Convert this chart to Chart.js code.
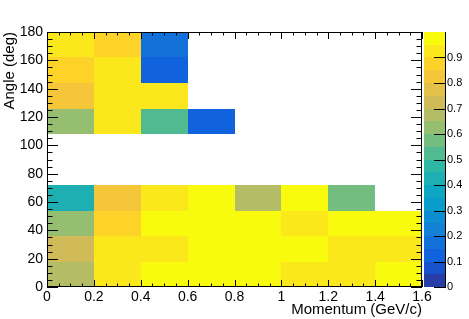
<!DOCTYPE html>
<html>
<head>
<meta charset="utf-8">
<script src="https://cdn.jsdelivr.net/npm/chart.js@4.4.1/dist/chart.umd.min.js"></script>
<style>
html, body { margin: 0; padding: 0; background: #fff; }
</style>
</head>
<body>
<canvas id="effMap" width="469" height="319"></canvas>
<script>
// bin edges
var momentumEdges = [0, 0.2, 0.4, 0.6, 0.8, 1.0, 1.2, 1.4, 1.6];
var angleEdges = [0, 18, 36, 54, 72, 90, 108, 126, 144, 162, 180];

// efficiency per angle bin, one value per momentum bin (null = empty bin)
var eff_0_18    = [0.68, 0.93, 0.97, 0.98, 0.97, 0.92, 0.93, 0.96];
var eff_18_36   = [0.72, 0.93, 0.92, 0.97, 0.98, 0.97, 0.92, 0.92];
var eff_36_54   = [0.63, 0.87, 0.97, 0.98, 0.97, 0.92, 0.96, 0.97];
var eff_54_72   = [0.42, 0.82, 0.91, 0.98, 0.67, 0.96, 0.57, null];
var eff_72_90   = [null, null, null, null, null, null, null, null];
var eff_90_108  = [null, null, null, null, null, null, null, null];
var eff_108_126 = [0.62, 0.93, 0.52, 0.12, null, null, null, null];
var eff_126_144 = [0.81, 0.93, 0.93, null, null, null, null, null];
var eff_144_162 = [0.86, 0.92, 0.13, null, null, null, null, null];
var eff_162_180 = [0.92, 0.88, 0.17, null, null, null, null, null];
var angleRows = [eff_0_18, eff_18_36, eff_36_54, eff_54_72, eff_72_90,
                 eff_90_108, eff_108_126, eff_126_144, eff_144_162, eff_162_180];

// tick labels
var momentumTicks = [0, 0.2, 0.4, 0.6, 0.8, 1, 1.2, 1.4, 1.6];
var angleTicks = [0, 20, 40, 60, 80, 100, 120, 140, 160, 180];
var colorTicks = [0, 0.1, 0.2, 0.3, 0.4, 0.5, 0.6, 0.7, 0.8, 0.9];

// ROOT kBird palette, 20 contours
var birdStops = [0, 0.125, 0.25, 0.375, 0.5, 0.625, 0.75, 0.875, 1];
var birdR = [0.2082, 0.0592, 0.0780, 0.0232, 0.1802, 0.5301, 0.8186, 0.9956, 0.9764];
var birdG = [0.1664, 0.3599, 0.5041, 0.6419, 0.7178, 0.7492, 0.7328, 0.7862, 0.9832];
var birdB = [0.5293, 0.8684, 0.8385, 0.7914, 0.6425, 0.4662, 0.3499, 0.1968, 0.0539];
var nContours = 20;

function birdColor(f) {
    var i = 1;
    while (i < birdStops.length - 1 && f > birdStops[i]) i++;
    var t = (f - birdStops[i - 1]) / (birdStops[i] - birdStops[i - 1]);
    var c = function(a) { return Math.round(255 * (a[i - 1] + t * (a[i] - a[i - 1]))); };
    return 'rgb(' + c(birdR) + ',' + c(birdG) + ',' + c(birdB) + ')';
}
function bandColor(band) {
    var idx = Math.floor((band + 0.99) * 255 / nContours);
    return birdColor(Math.min(1, idx / 254));
}
function zColor(v) {
    return bandColor(Math.min(nContours - 1, Math.floor(v * nContours + 1e-9)));
}

// cells
var cells = [];
angleRows.forEach(function(row, j) {
    row.forEach(function(v, i) {
        if (v === null) return;
        cells.push({
            x: (momentumEdges[i] + momentumEdges[i + 1]) / 2,
            y: (angleEdges[j] + angleEdges[j + 1]) / 2,
            x0: momentumEdges[i], x1: momentumEdges[i + 1],
            y0: angleEdges[j], y1: angleEdges[j + 1],
            v: v
        });
    });
});

var heatmapPlugin = {
    id: 'heatmap',
    beforeDatasetsDraw: function(chart) {
        var ctx = chart.ctx, xs = chart.scales.x, ys = chart.scales.y;
        ctx.save();
        chart.data.datasets[0].data.forEach(function(c) {
            var px0 = Math.round(xs.getPixelForValue(c.x0));
            var px1 = Math.round(xs.getPixelForValue(c.x1));
            var py0 = Math.round(ys.getPixelForValue(c.y0));
            var py1 = Math.round(ys.getPixelForValue(c.y1));
            ctx.fillStyle = zColor(c.v);
            ctx.fillRect(px0, py1, px1 - px0, py0 - py1);
        });
        ctx.restore();
    },
    afterDraw: function(chart) {
        var ctx = chart.ctx, a = chart.chartArea;
        var xs = chart.scales.x, ys = chart.scales.y, zs = chart.scales.z;
        ctx.save();
        ctx.strokeStyle = '#000';
        ctx.lineWidth = 1;
        ctx.strokeRect(a.left + 0.5, a.top + 0.5, a.right - a.left - 1, a.bottom - a.top - 1);

        ctx.beginPath();
        // x ticks, bottom and top
        for (var i = 0; i <= 32; i++) {
            var px = Math.round(xs.getPixelForValue(i * 0.05)) + 0.5;
            var len = (i % 4 === 0) ? 7 : 3.5;
            ctx.moveTo(px, a.bottom); ctx.lineTo(px, a.bottom - len);
            ctx.moveTo(px, a.top); ctx.lineTo(px, a.top + len);
        }
        // y ticks, left and right
        for (var k = 0; k <= 36; k++) {
            var py = Math.round(ys.getPixelForValue(k * 5)) + 0.5;
            var l2 = (k % 4 === 0) ? 11 : 5.5;
            ctx.moveTo(a.left, py); ctx.lineTo(a.left + l2, py);
            ctx.moveTo(a.right, py); ctx.lineTo(a.right - l2, py);
        }
        ctx.stroke();

        // colour bar
        var bx0 = a.right + 2, bx1 = a.right + 23;
        for (var b = 0; b < nContours; b++) {
            var yb = Math.round(zs.getPixelForValue(b / nContours));
            var yt = Math.round(zs.getPixelForValue((b + 1) / nContours));
            ctx.fillStyle = bandColor(b);
            ctx.fillRect(bx0, yt, bx1 - bx0, yb - yt);
        }
        ctx.beginPath();
        ctx.moveTo(bx1 + 0.5, a.top); ctx.lineTo(bx1 + 0.5, a.bottom);
        colorTicks.forEach(function(v) {
            var py = Math.round(zs.getPixelForValue(v)) + 0.5;
            ctx.moveTo(bx1 + 1, py); ctx.lineTo(bx1 - 11, py);
        });
        ctx.stroke();
        ctx.restore();
    }
};

var fontFam = '"Liberation Sans", Arial, sans-serif';

new Chart(document.getElementById('effMap').getContext('2d'), {
    type: 'scatter',
    data: {
        datasets: [{
            data: cells,
            pointRadius: 0,
            pointHoverRadius: 0
        }]
    },
    options: {
        responsive: false,
        animation: false,
        devicePixelRatio: 1,
        layout: { padding: { top: 32, left: 0, right: 0, bottom: 0 } },
        plugins: {
            legend: { display: false },
            tooltip: { enabled: false }
        },
        scales: {
            x: {
                type: 'linear',
                position: 'bottom',
                min: 0,
                max: 1.6,
                grid: { display: false, drawTicks: false },
                border: { display: false },
                afterBuildTicks: function(s) { s.ticks = momentumTicks.map(function(v) { return { value: v }; }); },
                afterFit: function(s) { s.height = 32; },
                ticks: {
                    padding: 2,
                    color: '#000',
                    font: { family: fontFam, size: 14 },
                    maxRotation: 0,
                    callback: function(v) { return String(v); }
                },
                title: {
                    display: true,
                    text: 'Momentum (GeV/c)',
                    align: 'end',
                    color: '#000',
                    font: { family: fontFam, size: 15 },
                    padding: { top: 0, bottom: 0 }
                }
            },
            y: {
                type: 'linear',
                position: 'left',
                min: 0,
                max: 180,
                grid: { display: false, drawTicks: false },
                border: { display: false },
                afterBuildTicks: function(s) { s.ticks = angleTicks.map(function(v) { return { value: v }; }); },
                afterFit: function(s) { s.width = 47; },
                ticks: {
                    padding: 4,
                    color: '#000',
                    font: { family: fontFam, size: 14 },
                    callback: function(v) { return String(v); }
                },
                title: {
                    display: true,
                    text: 'Angle (deg)',
                    align: 'end',
                    color: '#000',
                    font: { family: fontFam, size: 15 },
                    padding: { top: 1, bottom: 0 }
                }
            },
            z: {
                type: 'linear',
                position: 'right',
                min: 0,
                max: 1,
                grid: { display: false, drawTicks: false },
                border: { display: false },
                afterBuildTicks: function(s) { s.ticks = colorTicks.map(function(v) { return { value: v }; }); },
                afterFit: function(s) { s.width = 47; },
                ticks: {
                    padding: 25,
                    color: '#000',
                    font: { family: fontFam, size: 11 },
                    callback: function(v) { return v === 0 ? '0' : v.toFixed(1); }
                }
            }
        }
    },
    plugins: [heatmapPlugin]
});
</script>
</body>
</html>
